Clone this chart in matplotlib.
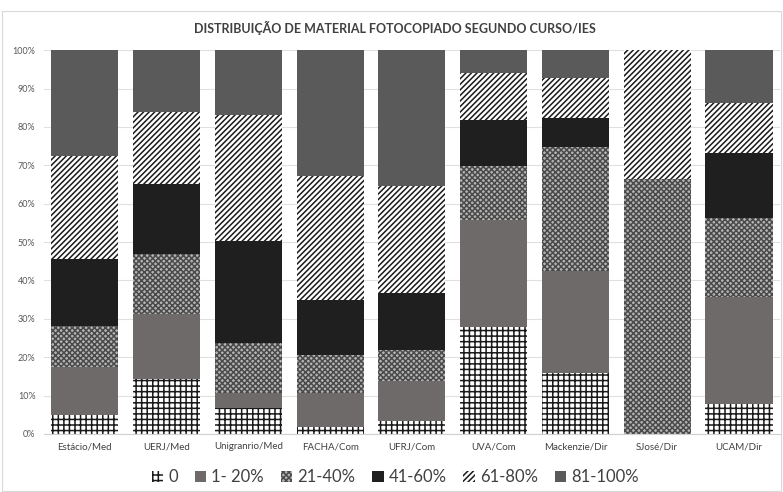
import matplotlib
matplotlib.use("Agg")
import matplotlib.pyplot as plt
import matplotlib.patches as mpatches
import numpy as np

plt.rcParams['font.family'] = ['Lato', 'DejaVu Sans']
plt.rcParams['hatch.linewidth'] = 1.1

cursos = ['Estácio/Med', 'UERJ/Med', 'Unigranrio/Med', 'FACHA/Com', 'UFRJ/Com',
          'UVA/Com', 'Mackenzie/Dir', 'SJosé/Dir', 'UCAM/Dir']
faixas = ['0', '1- 20%', '21-40%', '41-60%', '61-80%', '81-100%']

f0 = [5.0, 14.2, 6.7, 1.7, 3.5, 27.9, 15.9, 0.0, 7.8]
f1_20 = [12.4, 17.0, 4.0, 9.0, 10.2, 27.8, 26.5, 0.0, 27.9]
f21_40 = [10.6, 15.6, 13.0, 9.8, 8.1, 14.2, 32.5, 66.5, 20.7]
f41_60 = [17.6, 18.4, 26.6, 14.5, 14.8, 12.0, 7.4, 0.0, 16.8]
f61_80 = [26.9, 18.6, 32.8, 32.3, 28.0, 12.2, 10.4, 33.5, 13.0]
f81_100 = [27.5, 16.2, 16.9, 32.7, 35.4, 5.9, 7.3, 0.0, 13.8]

series = [f0, f1_20, f21_40, f41_60, f61_80, f81_100]
# (facecolor, hatch, hatch colour)
estilos = [('white', '+++', '#1a1a1a'),
           ('#6f6a6a', None, '#6f6a6a'),
           ('#b4b4b4', 'xxxxxx', '#4a4a4a'),
           ('#1f1f1f', None, '#1f1f1f'),
           ('white', '//////', '#1a1a1a'),
           ('#5a5a5a', None, '#5a5a5a')]

fig = plt.figure(figsize=(7.83, 4.92), dpi=100)
ax = fig.add_axes([0.056, 0.118, 0.940, 0.780])

x = np.arange(len(cursos))
base = np.zeros(len(cursos))
handles = []
for vals, nome, (fc, h, hc) in zip(series, faixas, estilos):
    vals = np.array(vals)
    ax.bar(x, vals, bottom=base, width=0.82, color=fc, hatch=h,
           edgecolor=hc, linewidth=0, zorder=2)
    base += vals
    handles.append(mpatches.Patch(facecolor=fc, hatch=h, edgecolor=hc,
                                  linewidth=0, label=nome))

ax.set_xlim(-0.5, len(cursos) - 0.5)
ax.set_ylim(0, 100)
ax.set_yticks(np.arange(0, 101, 10))
ax.set_yticklabels([f'{v}%' for v in range(0, 101, 10)], fontsize=6.5, color='#595959')
ax.set_xticks(x)
ax.set_xticklabels(cursos, fontsize=7, color='#404040')
ax.tick_params(length=0, pad=6)
ax.yaxis.grid(True, color='#e0e0e0', linewidth=0.8, zorder=0)
ax.set_axisbelow(True)
for s in ['top', 'right', 'left']:
    ax.spines[s].set_visible(False)
ax.spines['bottom'].set_color('#d0d0d0')

fig.text(0.505, 0.943, 'DISTRIBUIÇÃO DE MATERIAL FOTOCOPIADO SEGUNDO CURSO/IES',
         ha='center', va='center', fontsize=9, fontweight='bold', color='#404040')

fig.legend(handles=handles, loc='center', bbox_to_anchor=(0.505, 0.03), ncol=6,
           frameon=False, fontsize=12, handlelength=0.7, handleheight=0.7,
           handletextpad=0.3, columnspacing=1.0, labelcolor='#404040')

fig.patches.append(mpatches.Rectangle((0.003, 0.003), 0.994, 0.975, transform=fig.transFigure,
                                      fill=False, edgecolor='#d9d9d9', linewidth=0.8))

fig.savefig('out.png', dpi=100)
